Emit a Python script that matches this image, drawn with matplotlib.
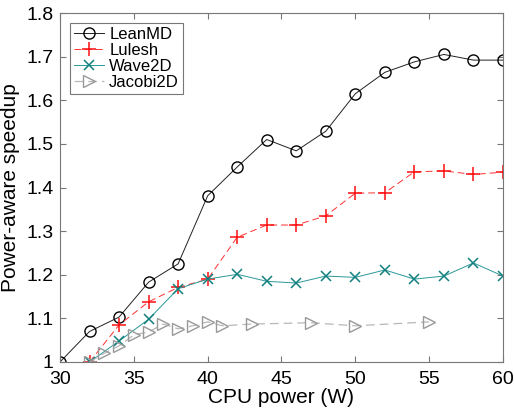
import matplotlib
matplotlib.use("Agg")
import matplotlib.pyplot as plt
from matplotlib.ticker import FuncFormatter

plt.rcParams['font.family'] = ['Liberation Sans', 'DejaVu Sans']

power = [30, 32, 34, 36, 38, 40, 42, 44, 46, 48, 50, 52, 54, 56, 58, 60]
leanmd = [1.0, 1.07, 1.103, 1.183, 1.225, 1.381, 1.447, 1.51, 1.484, 1.529,
          1.615, 1.664, 1.688, 1.705, 1.692, 1.692]

power_b = [32, 34, 36, 38, 40, 42, 44, 46, 48, 50, 52, 54, 56, 58, 60]
lulesh = [1.0, 1.085, 1.138, 1.171, 1.19, 1.286, 1.314, 1.314, 1.335, 1.387,
          1.388, 1.436, 1.438, 1.43, 1.435]
wave2d = [1.0, 1.048, 1.098, 1.168, 1.19, 1.201, 1.185, 1.181, 1.197, 1.194,
          1.211, 1.19, 1.197, 1.227, 1.197]

power_j = [32, 33, 34, 35, 36, 37, 38, 39, 40, 41, 43, 47, 50, 55]
jacobi2d = [1.0, 1.02, 1.037, 1.062, 1.069, 1.087, 1.076, 1.083, 1.092, 1.083,
            1.087, 1.09, 1.083, 1.092]

fig = plt.figure(figsize=(5.14, 4.08), dpi=100)
ax = fig.add_axes([60/514, 1 - 362/408, 443/514, 349/408])

ax.plot(power, leanmd, color='#222222', lw=0.7, marker='o', ms=8,
        mfc='none', mec='black', mew=1.0, label='LeanMD')
ax.plot(power_b, lulesh, color='#ff3030', lw=0.7, ls=(0, (7, 4)), marker='+', ms=10,
        mew=1.1, mec='#ff1010', label='Lulesh')
ax.plot(power_b, wave2d, color='#2a9898', lw=0.7, marker='x', ms=7,
        mew=1.1, mec='#138080', label='Wave2D')
ax.plot(power_j, jacobi2d, color='#b8b8b8', lw=0.9, ls=(0, (7, 4)), marker='>', ms=8.5,
        mfc='none', mec='#999999', mew=1.0, label='Jacobi2D')

ax.set_xlim(30, 60)
ax.set_ylim(1, 1.8)
ax.set_xticks(range(30, 61, 5))
ax.set_yticks([1, 1.1, 1.2, 1.3, 1.4, 1.5, 1.6, 1.7, 1.8])
ax.yaxis.set_major_formatter(FuncFormatter(lambda v, p: '1' if abs(v - 1) < 1e-9 else '%.1f' % v))
ax.tick_params(direction='in', top=True, right=True, labelsize=14, length=4,
               color='#777777')
ax.tick_params(axis='x', pad=6.5)
ax.tick_params(axis='y', pad=4.5)
for s in ax.spines.values():
    s.set_color('#777777')
    s.set_linewidth(0.8)

ax.set_xlabel('CPU power (W)', fontsize=15, labelpad=0)
ax.set_ylabel('Power-aware speedup', fontsize=15, labelpad=5)

leg = ax.legend(loc='upper left', fontsize=12, frameon=True, fancybox=False,
                edgecolor='#555555', borderaxespad=0.6, handlelength=1.8,
                handletextpad=0.3, labelspacing=0.05, borderpad=0.25)
leg.get_frame().set_linewidth(0.8)

fig.savefig('out.png', dpi=100)
